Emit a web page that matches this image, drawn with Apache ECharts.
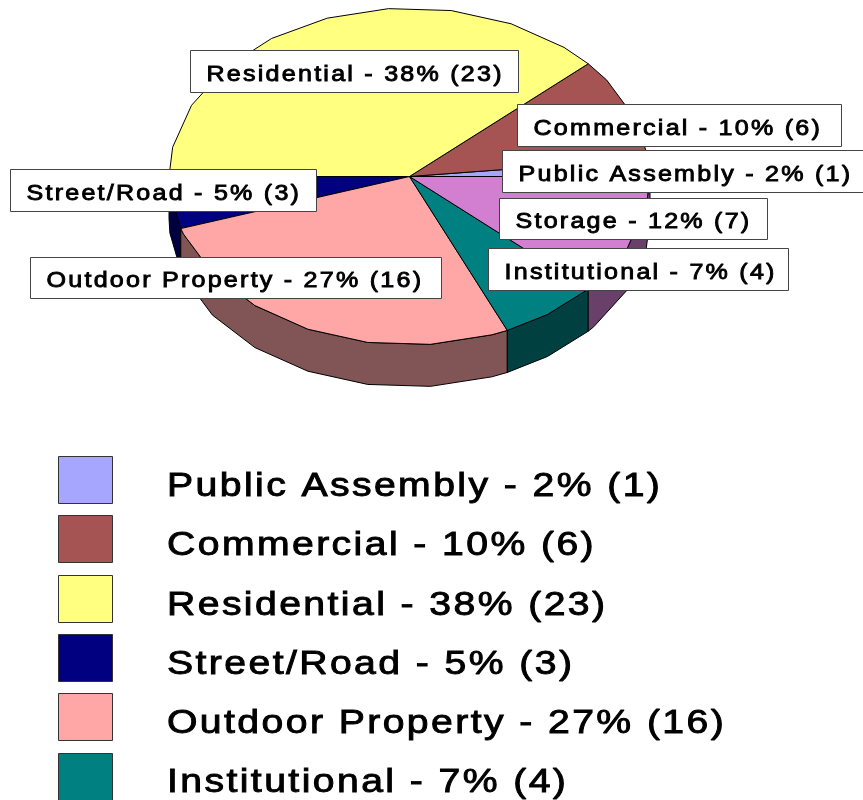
<!DOCTYPE html>
<html><head><meta charset="utf-8">
<style>html,body{margin:0;padding:0;background:#fff}#c{width:863px;height:800px}</style>
<script src="https://cdn.jsdelivr.net/npm/echarts@6/dist/echarts.min.js"></script>
</head><body><div id="c"></div>
<script>
const categories = ['Public Assembly','Commercial','Residential','Street/Road','Outdoor Property','Institutional','Storage'];
const counts = [1,6,23,3,16,4,7];
const topColors = ['#A6A6FF','#A65353','#FFFF80','#000080','#FFA6A6','#008080','#D27FD2'];
const wallColors = ['#535380','#532A2A','#808040','#000040','#815555','#004040','#69406A'];
const legendCount = 6;
const labelBoxes = [[502,150,380,42],[517,104,324,42],[190,50,328,42],[10,169,306,42],[30,257,411,41],[488,248,300,42],[499,198,268,41]];

// The reference text is widely tracked: apply tracking to every canvas context.
const origGet = HTMLCanvasElement.prototype.getContext;
HTMLCanvasElement.prototype.getContext = function(){ const c=origGet.apply(this,arguments); if(c&&'letterSpacing' in c) c.letterSpacing='2px'; return c; };

const FONT = '"Liberation Sans",Arial,sans-serif';
const cx=409.5, cy=176.5, rx=240.5, ry=168.5, depth=42, STEP=15;
const total = counts.reduce((a,b)=>a+b,0);
const labelOf = i => `${categories[i]} - ${Math.round(counts[i]/total*100)}% (${counts[i]})`;
const startOf = i => counts.slice(0,i).reduce((a,b)=>a+b,0)/total*360;
const pt = (deg,dy=0) => { const r=deg*Math.PI/180; return [cx+rx*Math.cos(r), cy-ry*Math.sin(r)+dy]; };
function arc(a,b,dy=0){ const out=[pt(a,dy)]; let k=Math.floor((a-5)/STEP)+1;
  for(let d=5+k*STEP; d<b; d+=STEP) if(d>a) out.push(pt(d,dy));
  out.push(pt(b,dy)); return out; }
const idx = categories.map((c,i)=>i);
const thin = (fill)=>({fill,stroke:'#000',lineWidth:1,lineJoin:'round'});
function textEl(x,y,t,size,sx){ return {type:'text',x,y,scaleX:sx,style:{text:t,fontFamily:FONT,fontSize:size,fill:'#000',stroke:'#000',lineWidth:0.9,textAlign:'left',textVerticalAlign:'middle'}}; }

const option = {
  animation:false, backgroundColor:'#fff',
  series:[
    {type:'custom',name:'walls',coordinateSystem:'none',z:1,silent:true,clip:false,data:idx,
     renderItem(p,api){ const i=p.dataIndex, a0=startOf(i), a1=a0+counts[i]/total*360;
       const a=Math.max(a0,180), b=Math.min(a1,360);
       if(b<=a) return {type:'group',children:[]};
       const top=arc(a,b), bot=arc(a,b,depth).reverse();
       return {type:'polygon',shape:{points:top.concat(bot)},style:thin(wallColors[i])}; }},
    {type:'custom',name:'slices',coordinateSystem:'none',z:2,silent:true,clip:false,data:idx,
     renderItem(p,api){ const i=p.dataIndex, a0=startOf(i), a1=a0+counts[i]/total*360;
       return {type:'polygon',shape:{points:[[cx,cy]].concat(arc(a0,a1))},style:thin(topColors[i])}; }},
    {type:'custom',name:'labels',coordinateSystem:'none',z:3,silent:true,clip:false,data:idx,
     renderItem(p,api){ const i=p.dataIndex, [x,y,w,h]=labelBoxes[i];
       return {type:'group',children:[
         {type:'rect',shape:{x:x+.5,y:y+.5,width:w,height:h},style:{fill:'#fff',stroke:'#444',lineWidth:1}},
         textEl(x+16.5,y+h/2+3.5,labelOf(i),22.5,1.115)]}; }},
    {type:'custom',name:'legend',coordinateSystem:'none',z:4,silent:true,clip:false,data:idx.slice(0,legendCount),
     renderItem(p,api){ const i=p.dataIndex, top=456+i*59.3;
       return {type:'group',children:[
         {type:'rect',shape:{x:58.5,y:Math.round(top)+.5,width:54,height:47},style:{fill:topColors[i],stroke:'#333',lineWidth:1}},
         textEl(167,top+31,labelOf(i),32.5,1.205)]}; }}
  ]
};
echarts.init(document.getElementById('c'),null,{renderer:'canvas'}).setOption(option);
</script></body></html>
